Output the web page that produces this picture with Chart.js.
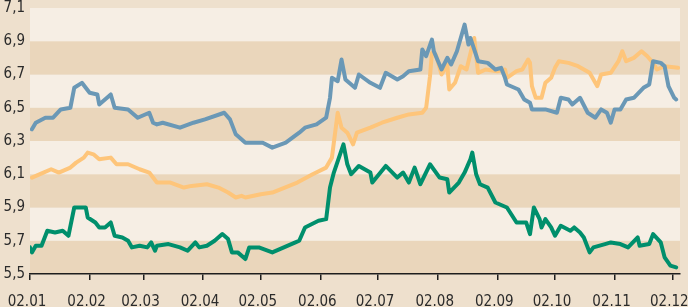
<!DOCTYPE html>
<html>
<head>
<meta charset="utf-8">
<script src="https://cdn.jsdelivr.net/npm/chart.js@4/dist/chart.umd.min.js"></script>
<style>
    html, body { margin: 0; padding: 0; background: #eee0cd; }
    #wrap { width: 688px; height: 307px; position: relative; }
</style>
</head>
<body>
<div id="wrap"><canvas id="chart-rates"></canvas></div>
<script>
// data (x = days since 02.01)
var monthTicks = [0, 31, 59, 90, 120, 151, 181, 212, 243, 273, 304, 334];
var monthLabels = ["02.01", "02.02", "02.03", "02.04", "02.05", "02.06", "02.07", "02.08", "02.09", "02.10", "02.11", "02.12"];
var yTicks = [5.5, 5.7, 5.9, 6.1, 6.3, 6.5, 6.7, 6.9, 7.1];

var blueDays = [1, 3, 8, 12, 16, 21, 23, 27, 31, 35, 36, 42, 44, 51, 56, 62, 64, 66, 69, 78, 85, 91, 101, 104, 107, 112, 115, 121, 126, 133, 140, 143, 149, 154, 156, 157, 160, 162, 164, 169, 171, 177, 182, 185, 191, 194, 197, 203, 204, 206, 209, 210, 214, 217, 219, 222, 226, 228, 229, 233, 238, 242, 245, 247, 248, 254, 257, 260, 261, 268, 274, 276, 280, 282, 286, 290, 294, 297, 300, 302, 304, 307, 310, 314, 319, 322, 324, 328, 330, 332, 335, 336];
var blueVals = [6.37, 6.41, 6.44, 6.44, 6.49, 6.50, 6.62, 6.65, 6.59, 6.58, 6.52, 6.58, 6.50, 6.49, 6.44, 6.47, 6.41, 6.40, 6.41, 6.38, 6.41, 6.43, 6.47, 6.43, 6.34, 6.29, 6.29, 6.29, 6.26, 6.29, 6.35, 6.38, 6.40, 6.44, 6.56, 6.68, 6.66, 6.79, 6.67, 6.62, 6.70, 6.65, 6.62, 6.71, 6.67, 6.69, 6.72, 6.73, 6.85, 6.81, 6.91, 6.84, 6.73, 6.80, 6.76, 6.84, 7.00, 6.88, 6.92, 6.78, 6.77, 6.73, 6.74, 6.68, 6.64, 6.61, 6.55, 6.53, 6.49, 6.49, 6.47, 6.56, 6.55, 6.52, 6.56, 6.47, 6.44, 6.49, 6.47, 6.41, 6.49, 6.49, 6.55, 6.56, 6.62, 6.64, 6.78, 6.77, 6.75, 6.63, 6.56, 6.55];

var orangeDays = [1, 7, 11, 15, 21, 24, 28, 30, 33, 36, 42, 45, 51, 57, 62, 66, 73, 80, 84, 92, 98, 103, 107, 110, 112, 120, 126, 139, 147, 154, 157, 160, 162, 165, 168, 170, 177, 183, 191, 197, 204, 206, 208, 209, 211, 214, 217, 218, 221, 224, 227, 231, 233, 237, 243, 247, 248, 253, 256, 259, 260, 261, 263, 266, 268, 271, 273, 275, 280, 285, 291, 295, 297, 302, 306, 308, 310, 314, 318, 321, 324, 326, 330, 337];
var orangeVals = [6.08, 6.11, 6.13, 6.11, 6.14, 6.17, 6.20, 6.23, 6.22, 6.19, 6.20, 6.16, 6.16, 6.13, 6.11, 6.05, 6.05, 6.02, 6.03, 6.04, 6.02, 5.99, 5.96, 5.97, 5.96, 5.98, 5.99, 6.05, 6.10, 6.14, 6.20, 6.47, 6.38, 6.35, 6.28, 6.35, 6.38, 6.41, 6.44, 6.46, 6.47, 6.50, 6.69, 6.83, 6.82, 6.70, 6.76, 6.61, 6.65, 6.75, 6.73, 6.92, 6.71, 6.73, 6.72, 6.73, 6.68, 6.72, 6.73, 6.79, 6.77, 6.63, 6.56, 6.56, 6.65, 6.68, 6.74, 6.78, 6.77, 6.75, 6.71, 6.63, 6.70, 6.71, 6.78, 6.84, 6.78, 6.80, 6.84, 6.81, 6.77, 6.73, 6.75, 6.74];

var greenDays = [0, 1, 3, 6, 9, 13, 17, 20, 23, 27, 29, 30, 34, 36, 39, 42, 44, 48, 51, 53, 57, 61, 63, 65, 66, 72, 78, 82, 86, 88, 92, 96, 100, 103, 105, 108, 112, 114, 119, 126, 132, 138, 140, 143, 150, 154, 156, 158, 163, 165, 167, 171, 177, 178, 185, 191, 194, 197, 200, 203, 208, 213, 217, 218, 223, 226, 229, 230, 232, 234, 238, 242, 248, 253, 258, 260, 262, 265, 266, 268, 271, 273, 276, 281, 283, 286, 288, 291, 293, 299, 302, 307, 311, 316, 317, 322, 324, 328, 330, 333, 336];
var greenVals = [5.66, 5.63, 5.67, 5.67, 5.76, 5.75, 5.76, 5.73, 5.90, 5.90, 5.90, 5.84, 5.81, 5.78, 5.78, 5.81, 5.73, 5.72, 5.70, 5.66, 5.67, 5.66, 5.69, 5.64, 5.67, 5.68, 5.66, 5.64, 5.69, 5.66, 5.67, 5.70, 5.74, 5.71, 5.63, 5.63, 5.59, 5.66, 5.66, 5.63, 5.66, 5.69, 5.70, 5.78, 5.82, 5.83, 6.02, 6.11, 6.28, 6.16, 6.10, 6.15, 6.11, 6.05, 6.15, 6.08, 6.11, 6.05, 6.14, 6.04, 6.16, 6.08, 6.07, 5.99, 6.05, 6.11, 6.19, 6.23, 6.10, 6.04, 6.02, 5.93, 5.90, 5.81, 5.81, 5.74, 5.90, 5.83, 5.78, 5.83, 5.78, 5.73, 5.79, 5.76, 5.78, 5.75, 5.72, 5.63, 5.66, 5.68, 5.69, 5.68, 5.66, 5.72, 5.67, 5.68, 5.74, 5.69, 5.60, 5.55, 5.54];

function toPoints(days, vals) {
    return days.map(function (d, i) { return { x: d, y: vals[i] }; });
}

// alternating horizontal bands
var bandPlugin = {
    id: 'bands',
    beforeDraw: function (chart) {
        var ctx = chart.ctx, area = chart.chartArea, y = chart.scales.y;
        ctx.save();
        for (var i = 0; i < yTicks.length - 1; i++) {
            var top = y.getPixelForValue(yTicks[i + 1]);
            var bot = y.getPixelForValue(yTicks[i]);
            ctx.fillStyle = (i % 2 === 0) ? '#ead6bb' : '#f6eee4';
            ctx.fillRect(area.left, top, area.right - area.left, bot - top);
        }
        ctx.restore();
    }
};

var lineStyle = {
    borderWidth: 4,
    pointRadius: 0,
    tension: 0,
    fill: false,
    borderJoinStyle: 'round',
    borderCapStyle: 'round'
};

var fontFamily = "'Liberation Sans Narrow', 'DejaVu Sans Condensed', Roboto, sans-serif";

var ctx = document.getElementById("chart-rates").getContext("2d");

new Chart(ctx, {
    type: "line",
    data: {
        datasets: [
            Object.assign({ label: "blue", borderColor: "#6a98b6", data: toPoints(blueDays, blueVals) }, lineStyle),
            Object.assign({ label: "orange", borderColor: "#fec57a", data: toPoints(orangeDays, orangeVals) }, lineStyle),
            Object.assign({ label: "green", borderColor: "#008f6c", data: toPoints(greenDays, greenVals) }, lineStyle)
        ]
    },
    plugins: [bandPlugin],
    options: {
        responsive: true,
        maintainAspectRatio: false,
        animation: false,
        layout: {
            padding: { top: 8, right: 8, left: 0, bottom: 0 }
        },
        plugins: {
            legend: { display: false },
            tooltip: { enabled: false }
        },
        scales: {
            x: {
                type: 'linear',
                min: 0,
                max: 338,
                afterBuildTicks: function (scale) {
                    scale.ticks = monthTicks.map(function (v) { return { value: v }; });
                },
                afterFit: function (scale) {
                    scale.height = 33;
                    scale.paddingLeft = 0;
                    scale.paddingRight = 0;
                },
                border: { display: true, color: '#1e1e1e', width: 1.5 },
                grid: {
                    display: true,
                    drawOnChartArea: false,
                    drawTicks: true,
                    tickLength: 6,
                    color: '#1e1e1e',
                    lineWidth: 1.5
                },
                ticks: {
                    autoSkip: false,
                    maxRotation: 0,
                    padding: 13,
                    labelOffset: -3,
                    color: '#2b2b2b',
                    font: { size: 15, family: fontFamily },
                    callback: function (value) {
                        var i = monthTicks.indexOf(value);
                        return i >= 0 ? monthLabels[i] : '';
                    }
                }
            },
            y: {
                min: 5.5,
                max: 7.1,
                afterBuildTicks: function (scale) {
                    scale.ticks = yTicks.map(function (v) { return { value: v }; });
                },
                afterFit: function (scale) {
                    scale.width = 30;
                    scale.paddingTop = 0;
                    scale.paddingBottom = 0;
                },
                border: { display: false },
                grid: { display: false, drawTicks: false },
                ticks: {
                    padding: 5,
                    color: '#2b2b2b',
                    font: { size: 15, family: fontFamily },
                    callback: function (value) {
                        return value.toFixed(1).replace('.', ',');
                    }
                }
            }
        }
    }
});
</script>
</body>
</html>
